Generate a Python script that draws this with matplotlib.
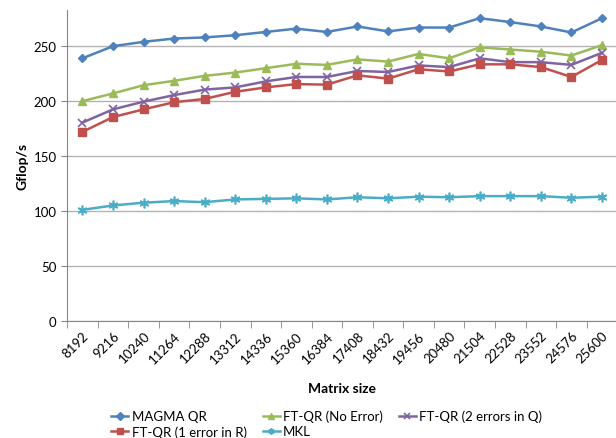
import numpy as np
import matplotlib
matplotlib.use("Agg")
import matplotlib.pyplot as plt

plt.rcParams['font.family'] = ['Lato', 'DejaVu Sans']

sizes = ["8192", "9216", "10240", "11264", "12288", "13312", "14336", "15360", "16384",
         "17408", "18432", "19456", "20480", "21504", "22528", "23552", "24576", "25600"]
magma = [239, 250, 254, 257, 258, 260, 263, 266, 263, 268, 263.5, 267, 267, 275.5, 272, 268, 262.5, 275.5]
no_err = [200, 207, 214.5, 218.5, 223, 226, 230, 234, 233, 238, 236, 243, 239, 249, 247, 245, 241.5, 251]
err_q = [180.5, 192.5, 199.5, 205.5, 210.5, 212.5, 218, 222, 222, 227.5, 226.5, 232.5, 231, 239, 235.5, 235.5, 233, 244]
err_r = [172, 185.5, 192.5, 199, 202, 208.5, 212.5, 215.5, 215, 223.5, 220.5, 229, 227, 233.5, 233.5, 231, 222, 237.5]
mkl = [101, 105, 107.5, 109, 108, 110.5, 111, 111.5, 110.5, 112.5, 111.5, 113, 112.5, 113.5, 113.5, 113.5, 112, 113]

fig = plt.figure(figsize=(6.16, 4.39), dpi=100)
ax = fig.add_axes([0.109, 0.267, 0.893, 0.708])
x = np.arange(len(sizes))

lw = 1.8
l1, = ax.plot(x, magma, color="#4F81BD", marker="D", ms=4.5, lw=lw, label="MAGMA QR")
l2, = ax.plot(x, no_err, color="#9BBB59", marker="^", ms=6, lw=lw, label="FT-QR (No Error)")
l3, = ax.plot(x, err_q, color="#8064A2", marker="x", ms=6, mew=1.2, lw=lw, label="FT-QR (2 errors in Q)")
l4, = ax.plot(x, err_r, color="#C0504D", marker="s", ms=6, lw=lw, label="FT-QR (1 error in R)")
l5, = ax.plot(x, mkl, color="#4BACC6", marker=(6, 2, 0), ms=7, mew=1.2, lw=lw, label="MKL")

ax.set_xlim(-0.5, len(sizes) - 0.5)
ax.set_ylim(0, 283)
ax.set_yticks(np.arange(0, 251, 50))
ax.yaxis.grid(True, color="#B3B3B3", lw=1)
ax.set_axisbelow(True)
for s in ["top", "right"]:
    ax.spines[s].set_visible(False)
for s in ["left", "bottom"]:
    ax.spines[s].set_color("#868686")
ax.tick_params(axis="y", colors="#868686", labelcolor="black", labelsize=9.5, length=4)
ax.set_xticks(x)
ax.set_xticklabels(sizes, rotation=45, ha="right", va="top", rotation_mode="anchor", fontsize=9.5)
ax.tick_params(axis="x", length=0, pad=6)
ax.set_xticks(np.arange(-0.5, len(sizes), 1), minor=True)
ax.tick_params(axis="x", which="minor", length=5, color="#868686")

ax.set_ylabel("Gflop/s", fontweight="bold", fontsize=10)
ax.set_xlabel("Matrix size", fontweight="bold", fontsize=10, labelpad=12)

order = [l1, l4, l2, l5, l3]
leg = fig.legend(order, [h.get_label() for h in order],
                 ncol=3, loc="lower left", bbox_to_anchor=(0.172, -0.012), frameon=False,
                 fontsize=9.5, handlelength=1.3, handletextpad=0.25, columnspacing=1.2,
                 labelspacing=0.25, borderaxespad=0.0)
for h in leg.legend_handles:
    h.set_markersize(4.5)

fig.savefig("out.png", dpi=100)
